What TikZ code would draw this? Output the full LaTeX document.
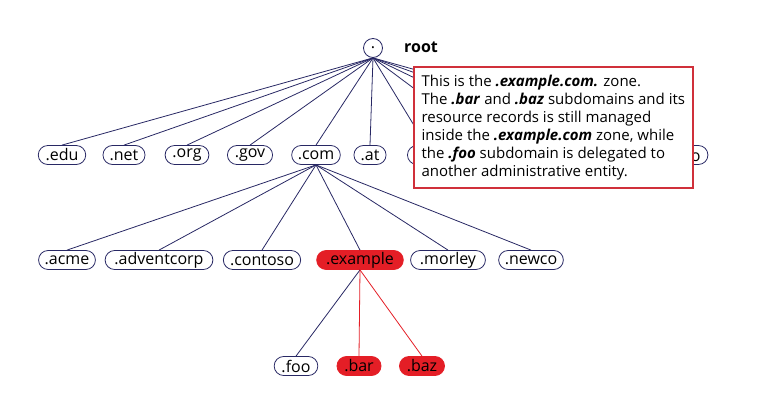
\documentclass[tikz,border=0pt]{standalone}
\usepackage{fontspec}
\setmainfont{Open Sans}
\usetikzlibrary{shapes.misc}
\definecolor{navy}{RGB}{40,40,100}
\definecolor{zonered}{RGB}{228,30,38}
\definecolor{boxred}{RGB}{208,48,58}
\tikzstyle{dom}=[rounded rectangle,draw=navy,line width=0.8pt,minimum height=19pt,inner xsep=5pt,inner ysep=0pt,font=\fontsize{16}{16}\selectfont]
\tikzstyle{zone}=[dom,fill=zonered,draw=zonered]
\tikzstyle{link}=[draw=navy,line width=0.8pt]
\tikzstyle{zonelink}=[draw=zonered,line width=0.8pt]
\newcommand{\bi}[1]{\textbf{\textit{#1}}}

\begin{document}
\begin{tikzpicture}[x=1pt,y=-1pt]
\useasboundingbox (0,0) rectangle (766,415);
% root
  \node[circle,draw=navy,line width=0.8pt,minimum size=19pt,inner sep=0pt,font=\fontsize{16}{16}\selectfont] (root) at (373,48) {.};
  \node[font=\fontsize{16}{16}\selectfont\bfseries] (rootlabel) at (421,47) {root};
% top level domains
  \node[dom] (edu) at (62,155) {.edu};
  \node[dom] (net) at (124,155) {.net};
  \node[dom] (org) at (187,155) {.org};
  \node[dom] (gov) at (250,155) {.gov};
  \node[dom] (com) at (316,155) {.com};
  \node[dom] (at) at (370,155) {.at};
  \node[dom] (uk) at (426,155) {.uk};
  \node[dom] (de) at (490,155) {.de};
  \node[dom] (fr) at (554,155) {.fr};
  \node[dom] (jp) at (618,155) {.jp};
  \node[dom] (info) at (684,155) {.info};
  \foreach \n in {edu,net,org,gov,com,at,uk,de,fr,jp,info}
    \draw[link] (root.south) -- (\n.north);
% second level
  \node[dom] (acme) at (67,260) {.acme};
  \node[dom] (adventcorp) at (159,260) {.adventcorp};
  \node[dom] (contoso) at (262,260) {.contoso};
  \node[zone] (example) at (360,260) {.example};
  \node[dom] (morley) at (448,260) {.morley};
  \node[dom] (newco) at (531,260) {.newco};
  \foreach \n in {acme,adventcorp,contoso,example,morley,newco}
    \draw[link] (com.south) -- (\n.north);
% third level
  \node[dom] (foo) at (296,366) {.foo};
  \node[zone] (bar) at (359,366) {.bar};
  \node[zone] (baz) at (422,366) {.baz};
  \draw[link] (example.south) -- (foo.north);
  \draw[zonelink] (example.south) -- (bar.north);
  \draw[zonelink] (example.south) -- (baz.north);
% note
  \node[draw=boxred,line width=1.6pt,fill=white,anchor=north west,
        minimum width=279pt,minimum height=121pt,align=left,
        font=\fontsize{15}{18}\selectfont] (note) at (413,66)
    {This is the \bi{.example.com.} zone.\\
     The \bi{.bar} and \bi{.baz} subdomains and its\\
     resource records is still managed\\
     inside the \bi{.example.com} zone, while\\
     the \bi{.foo} subdomain is delegated to\\
     another administrative entity.};
\end{tikzpicture}
\end{document}
